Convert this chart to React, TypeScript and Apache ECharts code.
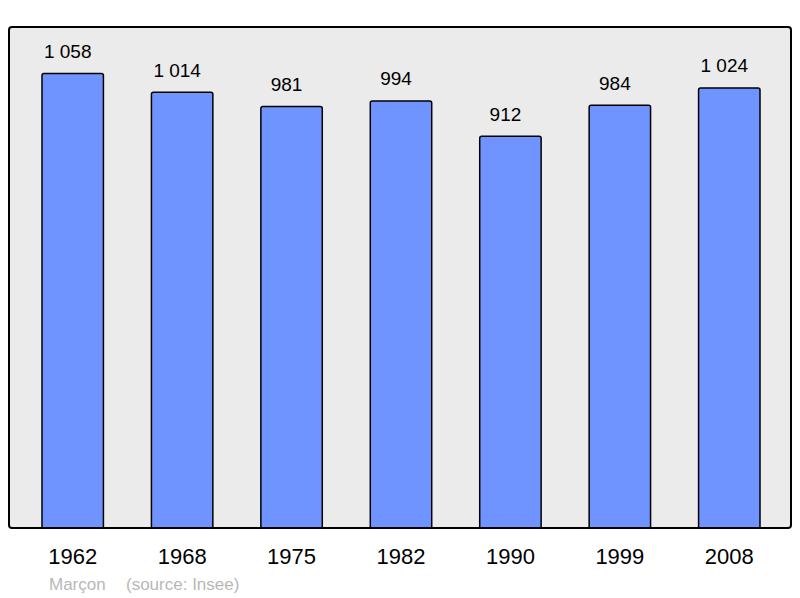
import React, { useEffect, useRef } from "react";
import * as echarts from "echarts";

const years = ["1962", "1968", "1975", "1982", "1990", "1999", "2008"];
const population = [1058, 1014, 981, 994, 912, 984, 1024];
const commune = "Marçon";
const source = "(source: Insee)";

const fmt = (v: number) => {
  const s = String(Math.round(v));
  return s.replace(/\B(?=(\d{3})+(?!\d))/g, " ");
};

export default function App() {
  const ref = useRef<HTMLDivElement>(null);
  useEffect(() => {
    if (!ref.current) return;
    const chart = echarts.init(ref.current, null, { renderer: "svg" });
    const font = "'Liberation Sans', Arial, sans-serif";
    chart.setOption({
      animation: false,
      grid: { left: 18, right: 16, top: 27, bottom: 69, containLabel: false },
      graphic: [
        {
          type: "rect",
          z: -10,
          shape: { x: 9, y: 27, width: 782, height: 501, r: 3 },
          style: { fill: "#ebebeb", stroke: "none" },
        },
        {
          type: "rect",
          z: 100,
          shape: { x: 9, y: 27, width: 782, height: 501, r: 3 },
          style: { fill: "none", stroke: "#000", lineWidth: 2 },
        },
        {
          type: "text",
          x: 49,
          y: 584,
          style: {
            text: commune,
            fill: "#b8b8b8",
            font: `17px ${font}`,
            verticalAlign: "middle",
            align: "left",
          },
        },
        {
          type: "text",
          x: 126,
          y: 584,
          style: {
            text: source,
            fill: "#b8b8b8",
            font: `17px ${font}`,
            verticalAlign: "middle",
            align: "left",
          },
        },
      ],
      xAxis: {
        type: "category",
        data: years,
        axisLine: { show: false },
        axisTick: { show: false },
        axisLabel: {
          margin: 16,
          fontSize: 22,
          color: "#000",
          fontFamily: font,
        },
      },
      yAxis: {
        type: "value",
        min: 0,
        max: 1163.8,
        show: false,
        splitLine: { show: false },
      },
      series: [
        {
          type: "bar",
          data: population,
          barWidth: "57.5%",
          itemStyle: {
            color: "#7094ff",
            borderColor: "#000",
            borderWidth: 1.5,
            borderRadius: [2, 2, 0, 0],
          },
          label: {
            show: true,
            position: "top",
            distance: 12,
            offset: [-5, 0],
            fontSize: 19,
            color: "#000",
            fontFamily: font,
            formatter: (p: any) => fmt(p.value),
          },
        },
      ],
    });
    return () => chart.dispose();
  }, []);
  return (
    <div
      ref={ref}
      style={{ position: "fixed", left: 0, top: 0, width: 800, height: 598, background: "#fff" }}
    />
  );
}
